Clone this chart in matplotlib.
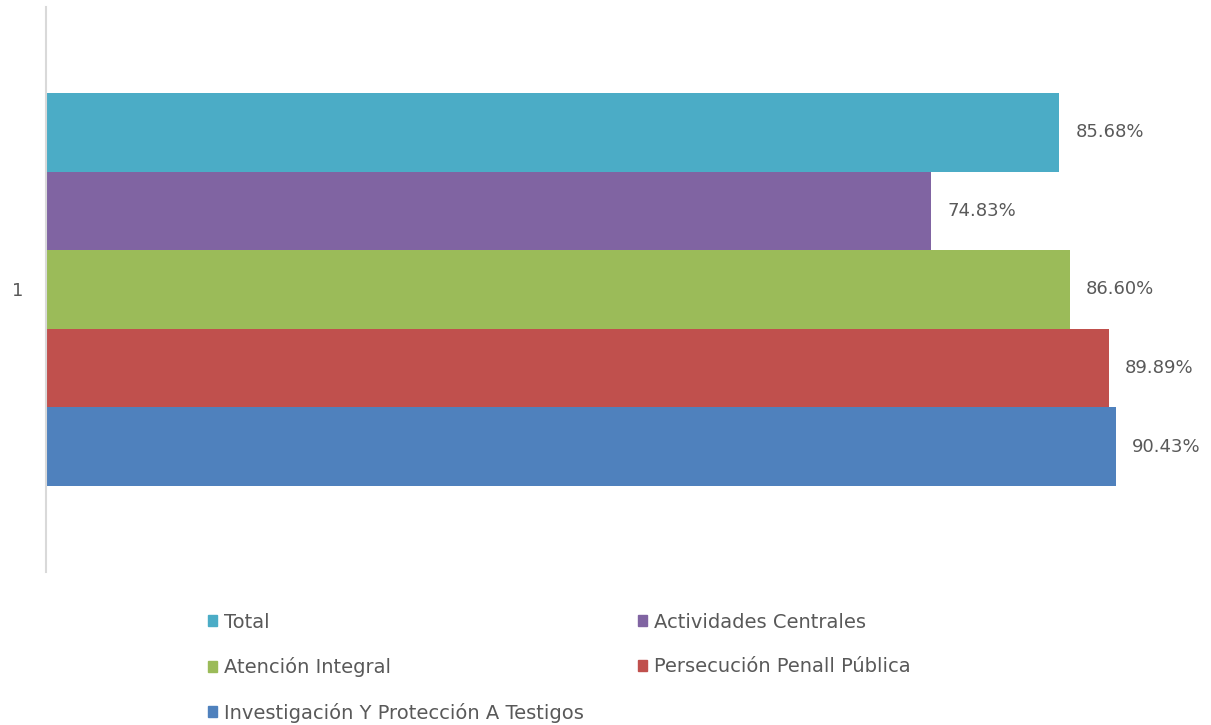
"""Horizontal bar chart: percentage by program, single category."""

import matplotlib

matplotlib.use("Agg")
import matplotlib.pyplot as plt
from matplotlib.patches import Patch

plt.rcParams["font.family"] = ["DejaVu Sans"]

categories = ["1"]
series_names = [
    "Total",
    "Actividades Centrales",
    "Atención Integral",
    "Persecución Penall Pública",
    "Investigación Y Protección A Testigos",
]
series_values = [85.68, 74.83, 86.60, 89.89, 90.43]
series_colors = ["#4bacc6", "#8064a2", "#9bbb59", "#c0504d", "#4f81bd"]

TEXT_COLOR = "#595959"

fig = plt.figure(figsize=(12.11, 7.25), dpi=100)
ax = fig.add_axes([46 / 1211, 1 - 572 / 725, 1 - 46 / 1211, (572 - 7) / 725])

n = len(series_names)
for i, (name, val, color) in enumerate(zip(series_names, series_values, series_colors)):
    y = (n - 1) / 2 - i
    ax.barh(y, val, height=1.0, color=color, label=name)
    ax.text(val + 1.35, y, f"{val:.2f}%", va="center", ha="left",
            fontsize=13, color=TEXT_COLOR)

ax.set_xlim(0, 98.5)
ax.set_ylim(-3.595, 3.595)
ax.set_xticks([])
ax.set_yticks([0])
ax.set_yticklabels(categories, fontsize=13, color=TEXT_COLOR)
ax.tick_params(axis="y", length=0, pad=16)
ax.spines[["top", "right", "bottom"]].set_visible(False)
ax.spines["left"].set_color("#d9d9d9")
ax.spines["left"].set_linewidth(1.5)

# legend filled row-wise like the reference (matplotlib fills by column)
order = [0, 2, 4, 1, 3]
handles = [Patch(color=series_colors[k]) for k in order]
labels = [series_names[k] for k in order]
fig.legend(
    handles, labels,
    loc="upper left",
    bbox_to_anchor=(198 / 1211, 1 - 603 / 725),
    ncol=2,
    frameon=False,
    fontsize=14,
    handlelength=0.5,
    handleheight=0.5,
    handletextpad=0.35,
    labelspacing=1.31,
    columnspacing=2.75,
    borderpad=0,
    labelcolor=TEXT_COLOR,
)

fig.savefig("out.png", dpi=100)
